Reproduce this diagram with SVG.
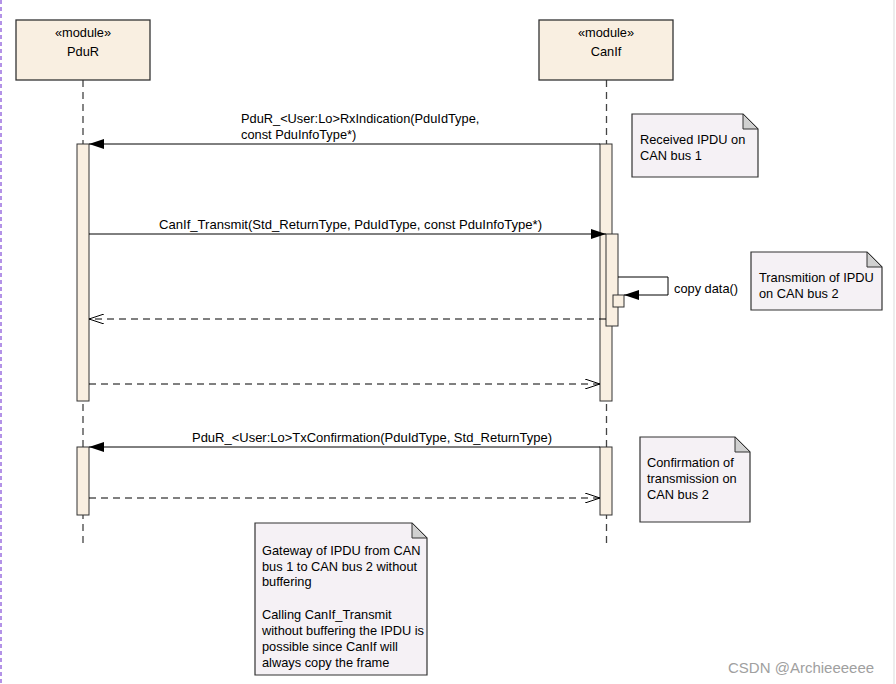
<svg xmlns="http://www.w3.org/2000/svg" width="896" height="684" viewBox="0 0 896 684">
<defs>
<style>
text{font-family:"Liberation Sans",Arial,sans-serif;font-size:12.8px;fill:#000}
.mod{fill:#F9EFE1;stroke:#333;stroke-width:1.3}
.act{fill:#F9EFE1;stroke:#333;stroke-width:1}
.life{stroke:#444;stroke-width:1.3;stroke-dasharray:7,5;fill:none}
.msg{stroke:#000;stroke-width:1;fill:none}
.ret{stroke:#000;stroke-width:1;fill:none;stroke-dasharray:7,5}
.note{fill:#F5F1F5;stroke:#333;stroke-width:1.2}
.fold{fill:#D0D0D0;stroke:#333;stroke-width:1}
</style>
<marker id="filled" markerWidth="16" markerHeight="10" refX="15" refY="5" orient="auto" markerUnits="userSpaceOnUse"><path d="M0,0 L15,5 L0,10 Z" fill="#000"/></marker>
<marker id="open" markerWidth="16" markerHeight="10" refX="15" refY="5" orient="auto" markerUnits="userSpaceOnUse"><path d="M0,0 L15,5 L0,10" fill="none" stroke="#000" stroke-width="1"/></marker>
</defs>
<rect width="896" height="684" fill="#fff"/>
<line x1="1" y1="0" x2="1" y2="684" stroke="#9B6FE0" stroke-width="1.5" stroke-dasharray="4,3"/>
<line x1="894" y1="0" x2="894" y2="684" stroke="#EDEDED" stroke-width="2"/>

<g id="PduR">
<line class="life" x1="83" y1="80" x2="83" y2="548"/>
<rect class="mod" x="16" y="20" width="134" height="60"/>
<text x="83" y="37" text-anchor="middle">«module»</text>
<text x="83" y="56" text-anchor="middle">PduR</text>
<rect class="act" x="77" y="144" width="12" height="257"/>
<rect class="act" x="77" y="447" width="12" height="68"/>
</g>

<g id="CanIf">
<line class="life" x1="606.5" y1="80" x2="606.5" y2="548"/>
<rect class="mod" x="539" y="20" width="134" height="60"/>
<text x="606" y="37" text-anchor="middle">«module»</text>
<text x="606" y="56" text-anchor="middle">CanIf</text>
<rect class="act" x="600" y="144" width="12" height="257"/>
<rect class="act" x="606" y="234" width="12" height="92"/>
<rect class="act" x="613" y="295" width="11" height="12"/>
<rect class="act" x="600" y="447" width="12" height="68"/>
</g>

<g id="connectors">
<line class="msg" x1="600" y1="144" x2="89" y2="144" marker-end="url(#filled)"/>
<text x="241" y="123">PduR_&lt;User:Lo&gt;RxIndication(PduIdType,</text>
<text x="241" y="139">const PduInfoType*)</text>
<line class="msg" x1="89" y1="234" x2="606" y2="234" marker-end="url(#filled)"/>
<text x="159" y="229" textLength="383" lengthAdjust="spacingAndGlyphs">CanIf_Transmit(Std_ReturnType, PduIdType, const PduInfoType*)</text>
<path class="msg" d="M618,277 H668 V295 H624" marker-end="url(#filled)"/>
<text x="674" y="293">copy data()</text>
<line class="ret" x1="606" y1="319" x2="89" y2="319" marker-end="url(#open)"/>
<line class="ret" x1="89" y1="384" x2="600" y2="384" marker-end="url(#open)"/>
<line class="msg" x1="600" y1="447" x2="89" y2="447" marker-end="url(#filled)"/>
<text x="192" y="442" textLength="360" lengthAdjust="spacingAndGlyphs">PduR_&lt;User:Lo&gt;TxConfirmation(PduIdType, Std_ReturnType)</text>
<line class="ret" x1="89" y1="498" x2="600" y2="498" marker-end="url(#open)"/>
</g>

<g id="note1">
<path class="note" d="M632,114 H743 L758,129 V177 H632 Z"/>
<path class="fold" d="M743,114 V129 H758 Z"/>
<text x="640" y="144">Received IPDU on</text>
<text x="640" y="160">CAN bus 1</text>
</g>

<g id="note2">
<path class="note" d="M751,252 H867 L882,267 V310 H751 Z"/>
<path class="fold" d="M867,252 V267 H882 Z"/>
<text x="759" y="282">Transmition of IPDU</text>
<text x="759" y="298">on CAN bus 2</text>
</g>

<g id="note3">
<path class="note" d="M640,437 H735 L750,452 V522 H640 Z"/>
<path class="fold" d="M735,437 V452 H750 Z"/>
<text x="647" y="467">Confirmation of</text>
<text x="647" y="483">transmission on</text>
<text x="647" y="499">CAN bus 2</text>
</g>

<g id="note4">
<path class="note" d="M255,523 H412 L427,538 V675 H255 Z"/>
<path class="fold" d="M412,523 V538 H427 Z"/>
<text x="262" y="555">Gateway of IPDU from CAN</text>
<text x="262" y="571">bus 1 to CAN bus 2 without</text>
<text x="262" y="586">buffering</text>
<text x="262" y="619">Calling CanIf_Transmit</text>
<text x="262" y="635">without buffering the IPDU is</text>
<text x="262" y="651">possible since CanIf will</text>
<text x="262" y="667">always copy the frame</text>
</g>

<text x="728" y="673" style="font-size:15px;fill:#A0A0A0">CSDN @Archieeeeee</text>
</svg>
